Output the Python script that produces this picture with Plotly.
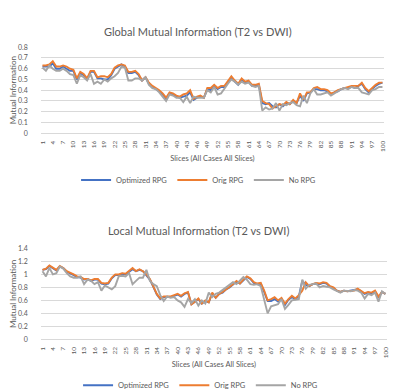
import plotly.graph_objects as go

slices = list(range(1, 101))
tick_slices = list(range(1, 101, 3))

global_optimized = [0.62, 0.62, 0.62, 0.65, 0.60, 0.60, 0.62, 0.60, 0.58, 0.58,
                    0.50, 0.56, 0.54, 0.50, 0.57, 0.57, 0.51, 0.51, 0.50, 0.50,
                    0.54, 0.60, 0.62, 0.64, 0.62, 0.56, 0.56, 0.57, 0.54, 0.49,
                    0.52, 0.46, 0.43, 0.41, 0.39, 0.36, 0.32, 0.37, 0.36, 0.34,
                    0.33, 0.34, 0.35, 0.38, 0.31, 0.33, 0.34, 0.33, 0.41, 0.40,
                    0.44, 0.41, 0.43, 0.43, 0.47, 0.52, 0.48, 0.45, 0.50, 0.47,
                    0.48, 0.44, 0.44, 0.45, 0.28, 0.27, 0.28, 0.25, 0.24, 0.27,
                    0.25, 0.28, 0.27, 0.30, 0.28, 0.35, 0.30, 0.37, 0.38, 0.41,
                    0.41, 0.40, 0.40, 0.39, 0.36, 0.38, 0.39, 0.41, 0.42, 0.42,
                    0.43, 0.42, 0.44, 0.46, 0.41, 0.38, 0.41, 0.44, 0.46, 0.47]
global_orig = [0.63, 0.63, 0.64, 0.67, 0.62, 0.62, 0.63, 0.62, 0.60, 0.59,
               0.51, 0.57, 0.55, 0.51, 0.58, 0.58, 0.52, 0.53, 0.53, 0.52,
               0.55, 0.61, 0.63, 0.64, 0.63, 0.57, 0.57, 0.58, 0.55, 0.49,
               0.52, 0.47, 0.44, 0.42, 0.40, 0.37, 0.33, 0.38, 0.37, 0.35,
               0.34, 0.36, 0.37, 0.40, 0.32, 0.34, 0.35, 0.33, 0.42, 0.42,
               0.45, 0.42, 0.44, 0.44, 0.48, 0.53, 0.49, 0.46, 0.51, 0.48,
               0.49, 0.45, 0.45, 0.46, 0.30, 0.28, 0.27, 0.23, 0.25, 0.27,
               0.26, 0.29, 0.27, 0.31, 0.28, 0.37, 0.31, 0.38, 0.38, 0.42,
               0.43, 0.41, 0.41, 0.40, 0.37, 0.38, 0.40, 0.41, 0.42, 0.43,
               0.44, 0.44, 0.44, 0.47, 0.42, 0.39, 0.42, 0.45, 0.47, 0.47]
global_none = [0.61, 0.58, 0.63, 0.60, 0.58, 0.58, 0.60, 0.58, 0.55, 0.54,
               0.46, 0.54, 0.52, 0.49, 0.55, 0.46, 0.48, 0.46, 0.50, 0.48,
               0.51, 0.53, 0.56, 0.62, 0.61, 0.49, 0.49, 0.51, 0.51, 0.49,
               0.52, 0.45, 0.42, 0.41, 0.38, 0.34, 0.30, 0.36, 0.35, 0.33,
               0.33, 0.29, 0.34, 0.28, 0.34, 0.33, 0.33, 0.33, 0.40, 0.38,
               0.43, 0.36, 0.37, 0.42, 0.46, 0.50, 0.48, 0.45, 0.48, 0.46,
               0.47, 0.44, 0.43, 0.44, 0.21, 0.24, 0.22, 0.23, 0.28, 0.21,
               0.27, 0.26, 0.28, 0.29, 0.26, 0.25, 0.35, 0.28, 0.37, 0.41,
               0.36, 0.36, 0.37, 0.38, 0.35, 0.37, 0.39, 0.41, 0.42, 0.41,
               0.43, 0.42, 0.42, 0.38, 0.37, 0.36, 0.40, 0.41, 0.43, 0.43]

local_optimized = [1.07, 1.08, 1.13, 1.09, 1.06, 1.12, 1.10, 1.04, 1.02, 0.99,
                   0.96, 0.95, 0.92, 0.93, 0.90, 0.92, 0.92, 0.86, 0.85, 0.86,
                   0.94, 0.99, 0.99, 1.01, 1.00, 1.04, 1.08, 1.05, 1.07, 1.05,
                   0.99, 0.92, 0.81, 0.69, 0.62, 0.65, 0.65, 0.65, 0.67, 0.69,
                   0.66, 0.70, 0.72, 0.54, 0.58, 0.62, 0.55, 0.59, 0.57, 0.71,
                   0.64, 0.70, 0.72, 0.77, 0.80, 0.85, 0.89, 0.86, 0.91, 0.96,
                   0.93, 0.87, 0.85, 0.86, 0.73, 0.59, 0.59, 0.62, 0.58, 0.62,
                   0.53, 0.61, 0.65, 0.62, 0.66, 0.90, 0.84, 0.82, 0.85, 0.86,
                   0.85, 0.87, 0.86, 0.81, 0.79, 0.75, 0.73, 0.75, 0.74, 0.75,
                   0.75, 0.77, 0.74, 0.70, 0.72, 0.71, 0.74, 0.64, 0.73, 0.70]
local_orig = [1.07, 1.09, 1.14, 1.10, 1.07, 1.13, 1.10, 1.05, 1.03, 1.00,
              0.97, 0.96, 0.93, 0.93, 0.91, 0.93, 0.93, 0.87, 0.86, 0.87,
              0.95, 1.00, 1.00, 1.02, 1.01, 1.05, 1.10, 1.05, 1.08, 1.05,
              1.00, 0.93, 0.82, 0.70, 0.63, 0.66, 0.66, 0.66, 0.68, 0.70,
              0.67, 0.71, 0.73, 0.54, 0.58, 0.63, 0.55, 0.60, 0.57, 0.72,
              0.64, 0.70, 0.73, 0.77, 0.80, 0.85, 0.90, 0.86, 0.92, 0.97,
              0.94, 0.88, 0.86, 0.87, 0.75, 0.60, 0.62, 0.65, 0.60, 0.64,
              0.55, 0.62, 0.67, 0.63, 0.68, 0.75, 0.88, 0.82, 0.85, 0.87,
              0.86, 0.88, 0.87, 0.82, 0.80, 0.75, 0.73, 0.75, 0.74, 0.75,
              0.75, 0.78, 0.75, 0.71, 0.73, 0.72, 0.75, 0.66, 0.73, 0.70]
local_none = [1.05, 0.97, 1.10, 1.00, 1.02, 1.12, 1.09, 1.02, 0.97, 0.95,
              0.95, 0.97, 0.85, 0.92, 0.90, 0.85, 0.88, 0.75, 0.83, 0.80,
              0.77, 0.82, 0.97, 0.98, 0.97, 1.02, 0.85, 0.90, 0.95, 0.95,
              1.07, 0.90, 0.85, 0.82, 0.68, 0.59, 0.66, 0.64, 0.65, 0.60,
              0.57, 0.50, 0.62, 0.56, 0.62, 0.52, 0.60, 0.55, 0.72, 0.65,
              0.70, 0.72, 0.76, 0.80, 0.83, 0.88, 0.85, 0.90, 0.96, 0.92,
              0.85, 0.84, 0.85, 0.82, 0.60, 0.40, 0.51, 0.52, 0.54, 0.62,
              0.47, 0.53, 0.60, 0.61, 0.62, 0.92, 0.78, 0.84, 0.85, 0.86,
              0.80, 0.82, 0.81, 0.80, 0.77, 0.74, 0.72, 0.75, 0.74, 0.74,
              0.76, 0.75, 0.72, 0.63, 0.70, 0.68, 0.72, 0.58, 0.74, 0.70]

global_yticks = [0, 0.1, 0.2, 0.3, 0.4, 0.5, 0.6, 0.7, 0.8]
global_ylabels = ["0", "0.1", "0.2", "0.3", "0.4", "0.5", "0.6", "0.7", "0.8"]
local_yticks = [0, 0.2, 0.4, 0.6, 0.8, 1.0, 1.2, 1.4]
local_ylabels = ["0", "0.2", "0.4", "0.6", "0.8", "1", "1.2", "1.4"]

series_names = ["Optimized RPG", "Orig RPG", "No RPG"]
colors = ["#4472C4", "#ED7D31", "#A5A5A5"]

FONT = "Lato"
TXT = "#595959"
GRID = "#D9D9D9"

fig = go.Figure()
for name, col, ys in zip(series_names, colors, [global_optimized, global_orig, global_none]):
    fig.add_trace(go.Scatter(x=slices, y=ys, name=name, mode="lines",
                             line=dict(color=col, width=1.9), xaxis="x", yaxis="y",
                             legend="legend"))
for name, col, ys in zip(series_names, colors, [local_optimized, local_orig, local_none]):
    fig.add_trace(go.Scatter(x=slices, y=ys, name=name, mode="lines",
                             line=dict(color=col, width=1.9), xaxis="x2", yaxis="y2",
                             legend="legend2"))

H = 392.0
W = 400.0

xcommon = dict(range=[0.5, 100.5], tickmode="array", tickvals=tick_slices,
               ticktext=[str(v) for v in tick_slices], tickangle=-90,
               tickfont=dict(size=6.5, color=TXT, family=FONT), showgrid=False,
               showline=True, linecolor=GRID, linewidth=1, zeroline=False,
               ticks="", ticklabelstandoff=4,
               title=dict(text="Slices (All Cases All Slices)",
                          font=dict(size=7.5, color=TXT, family=FONT), standoff=4))
ycommon = dict(tickfont=dict(size=7, color=TXT, family=FONT), showgrid=True,
               gridcolor=GRID, gridwidth=1, zeroline=False, showline=False,
               ticks="", ticklabelstandoff=12, tickmode="array",
               title=dict(text="Mutual Information",
                          font=dict(size=8, color=TXT, family=FONT), standoff=2))

fig.update_layout(
    width=400, height=392,
    margin=dict(l=0, r=0, t=0, b=0),
    paper_bgcolor="white", plot_bgcolor="white",
    showlegend=True,
    xaxis=dict(domain=[31 / W, 377 / W], anchor="y", **xcommon),
    yaxis=dict(domain=[(H - 123) / H, (H - 35) / H], anchor="x", range=[0, 0.8],
               tickvals=global_yticks, ticktext=global_ylabels, **ycommon),
    xaxis2=dict(domain=[31 / W, 380 / W], anchor="y2", **xcommon),
    yaxis2=dict(domain=[(H - 334) / H, (H - 241) / H], anchor="x2", range=[0, 1.4],
                tickvals=local_yticks, ticktext=local_ylabels, **ycommon),
    legend=dict(orientation="h", x=0.475, xanchor="center", y=1 - 171 / H,
                yanchor="middle", font=dict(size=7.5, color=TXT, family=FONT),
                bgcolor="rgba(0,0,0,0)", itemwidth=30, tracegroupgap=0),
    legend2=dict(orientation="h", x=0.48, xanchor="center", y=1 - 381 / H,
                 yanchor="middle", font=dict(size=7.5, color=TXT, family=FONT),
                 bgcolor="rgba(0,0,0,0)", itemwidth=30, tracegroupgap=0),
    annotations=[
        dict(text="Global Mutual Information (T2 vs DWI)", x=189 / W, y=1 - 19 / H,
             xref="paper", yref="paper", showarrow=False, xanchor="center",
             yanchor="middle", font=dict(size=11, color=TXT, family=FONT)),
        dict(text="Local Mutual Information (T2 vs DWI)", x=190 / W, y=1 - 223 / H,
             xref="paper", yref="paper", showarrow=False, xanchor="center",
             yanchor="middle", font=dict(size=11, color=TXT, family=FONT)),
    ],
)

fig.write_html("out.html")
